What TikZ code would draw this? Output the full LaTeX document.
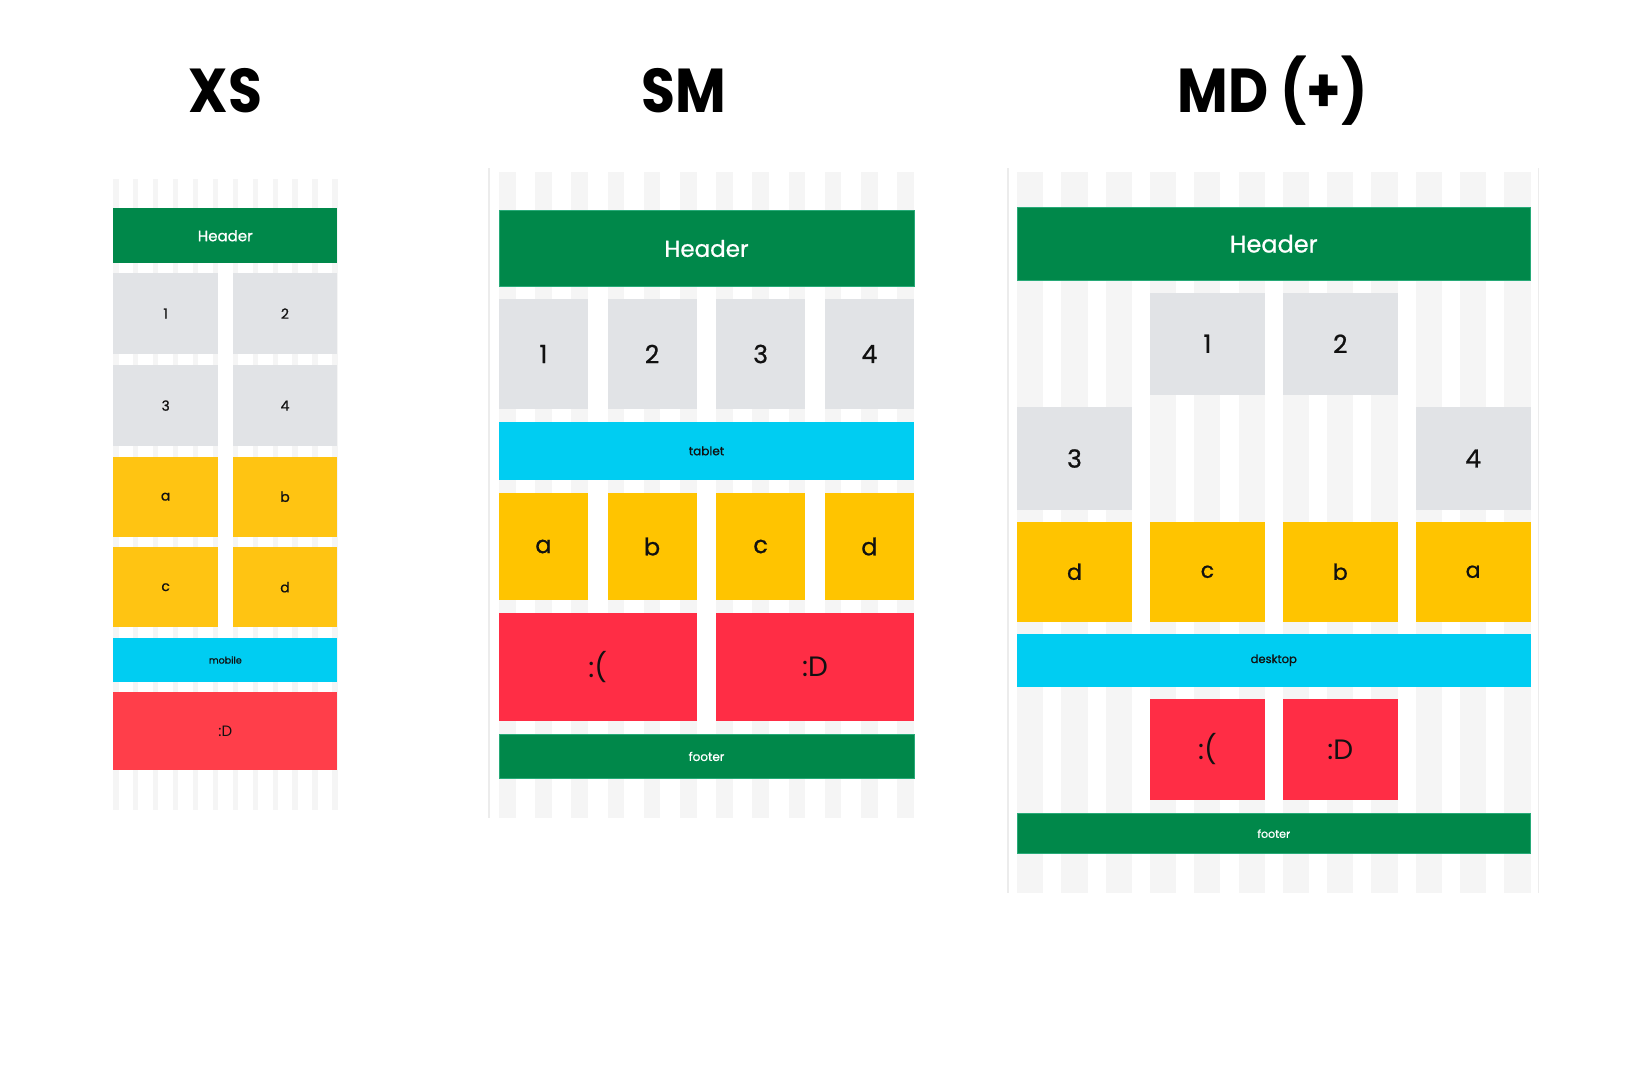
\documentclass[tikz,border=0pt]{standalone}
\usepackage{fontspec}
\setmainfont{Poppins}
\newfontfamily\medf{Poppins}[FakeBold=0.8]
\newfontfamily\titlef{Poppins}[FakeStretch=0.89]
\definecolor{gr}{RGB}{0,136,74}
\definecolor{grline}{RGB}{40,170,120}
\definecolor{gbox}{RGB}{225,227,230}
\definecolor{yel}{RGB}{255,196,0}
\definecolor{yelxs}{RGB}{255,196,18}
\definecolor{cy}{RGB}{0,205,242}
\definecolor{rd}{RGB}{255,45,69}
\definecolor{rdxs}{RGB}{255,62,74}
\definecolor{stripe}{RGB}{245,245,245}
\definecolor{edge}{RGB}{236,236,236}
\definecolor{ink}{RGB}{17,17,17}
\tikzset{
  bxbase/.style={rectangle, inner sep=0pt, outer sep=0pt, draw=none, text=ink},
  greenbox/.style={bxbase, fill=gr, text=white},
  graybox/.style={bxbase, fill=gbox},
  yelbox/.style={bxbase, fill=yel},
  yelxsbox/.style={bxbase, fill=yelxs},
  cybox/.style={bxbase, fill=cy},
  redbox/.style={bxbase, fill=rd},
  redxsbox/.style={bxbase, fill=rdxs},
  title/.style={anchor=base, inner sep=0pt, font=\titlef\bfseries\fontsize{62}{62}\selectfont},
}
\newcommand\bx[7]{\node[#6, minimum width={(#4-#2)*1pt}, minimum height={(#5-#3)*1pt}] (#1) at ({(#2+#4)/2},{(#3+#5)/2}) {#7};}
\newcommand\fs[1]{\fontsize{#1}{#1}\selectfont}
\begin{document}
\begin{tikzpicture}[x=1pt,y=-1pt]
\useasboundingbox[fill=white] (0,0) rectangle (1629,1080);
% titles
\node[title] (tXS) at (225.5,112) {XS};
\node[title] (tSM) at (683.6,112) {SM};
\node[title] (tMD) at (1272.8,112) {MD (+)};
% ---------- XS ----------
\foreach \k in {0,...,11} \fill[stripe] ({113.3+\k*19.91},178.9) rectangle ++(5.2,631.1);
\bx{xsH}{113.3}{208.4}{337.3}{263.1}{greenbox}{\medf\fs{15}Header}
\bx{xs1}{113.3}{272.8}{218}{354.4}{graybox}{\medf\fs{14}1}
\bx{xs2}{232.7}{272.8}{337.3}{354.4}{graybox}{\medf\fs{14}2}
\bx{xs3}{113.3}{365}{218}{446.2}{graybox}{\medf\fs{14}3}
\bx{xs4}{232.7}{365}{337.3}{446.2}{graybox}{\medf\fs{14}4}
\bx{xsa}{113.3}{456.7}{218}{536.7}{yelxsbox}{\medf\fs{14}a}
\bx{xsb}{232.7}{456.7}{337.3}{536.7}{yelxsbox}{\medf\fs{14}b}
\bx{xsc}{113.3}{547.2}{218}{627.2}{yelxsbox}{\medf\fs{14}c}
\bx{xsd}{232.7}{547.2}{337.3}{627.2}{yelxsbox}{\medf\fs{14}d}
\bx{xsm}{113.3}{638.1}{337.3}{681.9}{cybox}{\medf\fs{9.5}mobile}
\bx{xsD}{113.3}{692}{337.3}{770.3}{redxsbox}{\fs{15}:D}
% ---------- SM ----------
\draw[edge, line width=1.2pt] (489,168) -- (489,818);
\foreach \k in {0,...,11} \fill[stripe] ({499+\k*36.2},172) rectangle ++(16.5,646);
\bx{smH}{499}{210.4}{914}{286.5}{greenbox, draw=grline, line width=0.8pt}{\medf\fs{23}Header}
\bx{sm1}{499}{299.3}{587.9}{408.7}{graybox}{\medf\fs{25}1}
\bx{sm2}{607.6}{299.3}{696.5}{408.7}{graybox}{\medf\fs{25}2}
\bx{sm3}{716.2}{299.3}{805.1}{408.7}{graybox}{\medf\fs{25}3}
\bx{sm4}{824.8}{299.3}{914}{408.7}{graybox}{\medf\fs{25}4}
\bx{smt}{499}{422}{914}{479.7}{cybox}{\medf\fs{12}tablet}
\bx{sma}{499}{493}{587.9}{600}{yelbox}{\medf\fs{24}a}
\bx{smb}{607.6}{493}{696.5}{600}{yelbox}{\medf\fs{24}b}
\bx{smc}{716.2}{493}{805.1}{600}{yelbox}{\medf\fs{24}c}
\bx{smd}{824.8}{493}{914}{600}{yelbox}{\medf\fs{24}d}
\bx{smS}{499}{613}{696.5}{721}{redbox}{\fs{28}:(}
\bx{smD}{716.2}{613}{914}{721}{redbox}{\fs{28}:D}
\bx{smF}{499}{734}{914}{778.8}{greenbox, draw=grline, line width=0.8pt}{\medf\fs{12}footer}
% ---------- MD ----------
\draw[edge, line width=1.2pt] (1008,168) -- (1008,893);
\draw[edge, line width=1.2pt] (1538.5,168) -- (1538.5,893);
\foreach \k in {0,...,11} \fill[stripe] ({1017+\k*44.3},172) rectangle ++(26.2,721);
\bx{mdH}{1017}{207.2}{1530.5}{280.3}{greenbox, draw=grline, line width=0.8pt}{\medf\fs{24}Header}
\bx{md1}{1149.9}{293}{1264.9}{394.5}{graybox}{\medf\fs{25}1}
\bx{md2}{1282.8}{293}{1397.8}{394.5}{graybox}{\medf\fs{25}2}
\bx{md3}{1017}{407.3}{1132}{509.7}{graybox}{\medf\fs{25}3}
\bx{md4}{1415.7}{407.3}{1530.5}{509.7}{graybox}{\medf\fs{25}4}
\bx{mdd}{1017}{522}{1132}{621.5}{yelbox}{\medf\fs{22}d}
\bx{mdc}{1149.9}{522}{1264.9}{621.5}{yelbox}{\medf\fs{22}c}
\bx{mdb}{1282.8}{522}{1397.8}{621.5}{yelbox}{\medf\fs{22}b}
\bx{mda}{1415.7}{522}{1530.5}{621.5}{yelbox}{\medf\fs{22}a}
\bx{mdk}{1017}{633.8}{1530.5}{686.7}{cybox}{\medf\fs{11.5}desktop}
\bx{mdS}{1149.9}{698.5}{1264.9}{800.4}{redbox}{\fs{28}:(}
\bx{mdD}{1282.8}{698.5}{1397.8}{800.4}{redbox}{\fs{28}:D}
\bx{mdF}{1017}{813.6}{1530.5}{853.7}{greenbox, draw=grline, line width=0.8pt}{\medf\fs{11}footer}
\end{tikzpicture}
\end{document}
